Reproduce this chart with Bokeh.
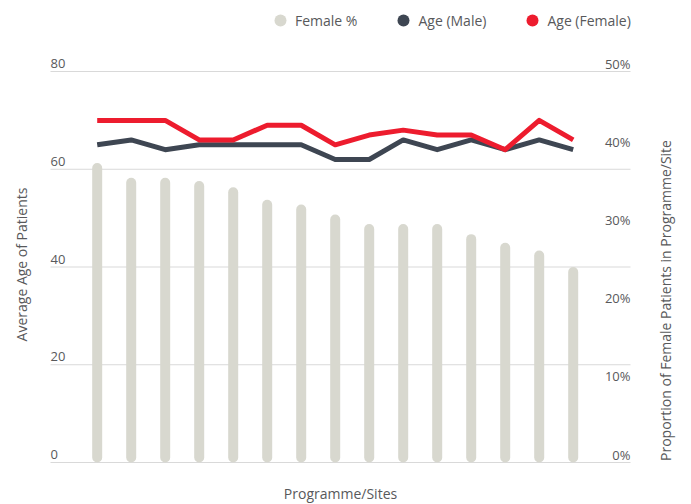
from bokeh.plotting import figure
from bokeh.models import Range1d, ColumnDataSource, LabelSet, Label, Legend, LegendItem
from bokeh.core.properties import value
from bokeh.embed import file_html
from bokeh.resources import INLINE
import math

# ---- data ----
sites = list(range(1, 16))
female_pct = [38.3, 36.4, 36.4, 36.0, 35.2, 33.6, 33.0, 31.7, 30.5, 30.5, 30.5, 29.2, 28.1, 27.1, 25.0]
age_male = [65, 66, 64, 65, 65, 65, 65, 62, 62, 66, 64, 66, 64, 66, 64]
age_female = [70, 70, 70, 66, 66, 69, 69, 65, 67, 68, 67, 67, 64, 70, 66]
age_ticks = [0, 20, 40, 60, 80]
age_tick_labels = ["0", "20", "40", "60", "80"]
pct_ticks = [0, 10, 20, 30, 40, 50]
pct_tick_labels = ["0%", "10%", "20%", "30%", "40%", "50%"]

FONT = "Open Sans"
TXT = "#58595b"
GREY_BAR = "#d8d8cf"
DARK = "#3e4652"
RED = "#ed1c2e"
GRID = "#d9d9d9"

# ---- layout (pixels) ----
W, H = 691, 504
PLOT_L, PLOT_R = 50, 630        # extent of the grid lines
PLOT_T, PLOT_B = 71, 462        # y of 80 and of 0
FIRST_X = 96.7                  # pixel x of first site
STEP = 34.0                     # pixels per site

px_per_age = (PLOT_B - PLOT_T) / 80.0
x0 = sites[0] - FIRST_X / STEP
x1 = x0 + W / STEP
y0 = -(H - PLOT_B) / px_per_age
y1 = 80 + PLOT_T / px_per_age
pct_per_age = 50.0 / 80.0

p = figure(width=W, height=H, output_backend="svg", toolbar_location=None,
           x_range=Range1d(x0, x1), y_range=Range1d(y0, y1),
           x_axis_location=None, y_axis_location=None,
           min_border=0, min_border_left=0, min_border_right=0,
           min_border_top=0, min_border_bottom=0)
p.extra_y_ranges = {"pct": Range1d(y0 * pct_per_age, y1 * pct_per_age)}
p.grid.visible = False
p.outline_line_color = None
p.background_fill_color = "white"
p.border_fill_color = "white"

# horizontal grid lines at the age ticks, spanning the plot area
gx0 = x0 + PLOT_L / STEP
gx1 = x0 + PLOT_R / STEP
p.segment(x0=gx0, x1=gx1, y0=age_ticks, y1=age_ticks, line_color=GRID, line_width=1)

src = ColumnDataSource(dict(site=sites, pct=female_pct, male=age_male, female=age_female))

p.vbar(x="site", top="pct", bottom=0, width=10 / STEP, source=src, y_range_name="pct",
       fill_color=GREY_BAR, line_color=None, border_radius=5)

p.line("site", "male", source=src, line_width=5, line_color=DARK, line_join="round")
p.line("site", "female", source=src, line_width=5, line_color=RED, line_join="round")

# tick labels sitting above their grid lines
lsrc = ColumnDataSource(dict(y=age_ticks, text=age_tick_labels))
p.add_layout(LabelSet(x=PLOT_L, y="y", text="text", source=lsrc, x_units="screen",
                      text_align="left", text_baseline="middle", y_offset=8,
                      text_font=value(FONT), text_font_size=value("13px"),
                      text_color=TXT))
rsrc = ColumnDataSource(dict(y=pct_ticks, text=pct_tick_labels))
p.add_layout(LabelSet(x=PLOT_R, y="y", text="text", source=rsrc, x_units="screen",
                      y_range_name="pct",
                      text_align="right", text_baseline="middle", y_offset=8,
                      text_font=value(FONT), text_font_size=value("13px"),
                      text_color=TXT))

# axis titles
p.add_layout(Label(x=21, y=H - 264, x_units="screen", y_units="screen",
                   text="Average Age of Patients", angle=math.pi / 2,
                   text_align="center", text_baseline="middle",
                   text_font=FONT, text_font_size="14px", text_color=TXT))
p.add_layout(Label(x=665, y=H - 300, x_units="screen", y_units="screen",
                   text="Proportion of Female Patients in Programme/Site", angle=math.pi / 2,
                   text_align="center", text_baseline="middle",
                   text_font=FONT, text_font_size="14px", text_color=TXT))
p.add_layout(Label(x=(PLOT_L + PLOT_R) / 2, y=H - 493, x_units="screen", y_units="screen",
                   text="Programme/Sites",
                   text_align="center", text_baseline="middle",
                   text_font=FONT, text_font_size="14px", text_color=TXT))

# legend (circle markers; hidden scatter renderers supply the legend glyphs)
g1 = p.scatter(x="site", y="pct", source=src, y_range_name="pct", size=12,
               fill_color=GREY_BAR, line_color=None, visible=False)
g2 = p.scatter(x="site", y="male", source=src, size=12,
               fill_color=DARK, line_color=None, visible=False)
g3 = p.scatter(x="site", y="female", source=src, size=12,
               fill_color=RED, line_color=None, visible=False)
legend = Legend(items=[LegendItem(label="Female %", renderers=[g1]),
                       LegendItem(label="Age (Male)", renderers=[g2]),
                       LegendItem(label="Age (Female)", renderers=[g3])],
                orientation="horizontal", location=(265, H - 35),
                margin=0, padding=0, spacing=31, label_standoff=0,
                glyph_width=30, glyph_height=30, label_height=12,
                border_line_color=None, background_fill_alpha=0,
                inactive_fill_alpha=0,
                label_text_font=FONT, label_text_font_size="14px",
                label_text_color=TXT)
p.add_layout(legend)

open("out.html", "w").write(file_html(p, INLINE))
